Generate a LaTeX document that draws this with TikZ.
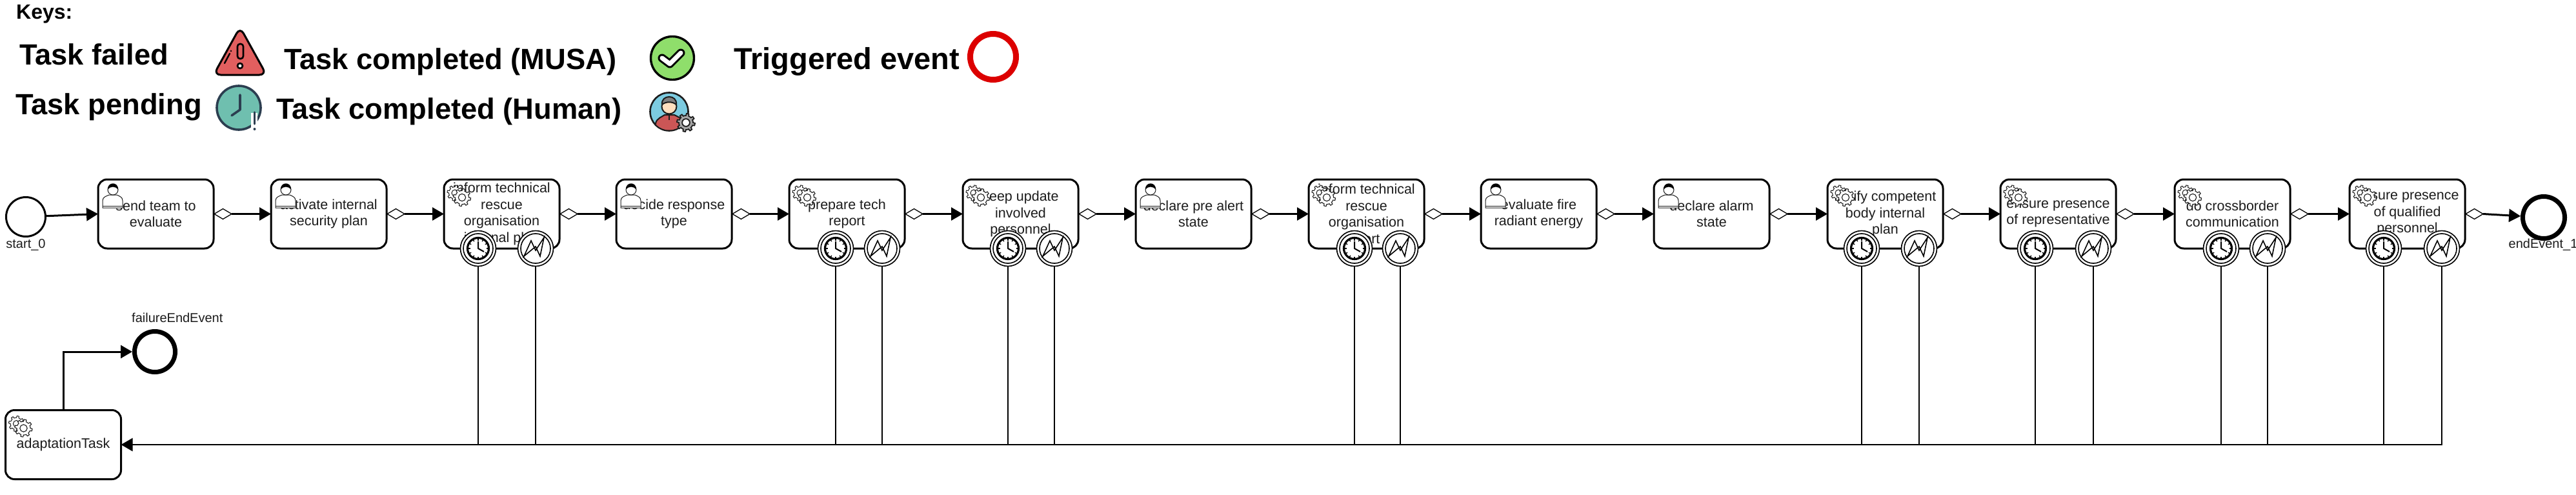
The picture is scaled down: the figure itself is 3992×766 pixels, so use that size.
\documentclass[tikz,border=0pt]{standalone}
\usepackage{fontspec}
\setmainfont{Liberation Sans}
\usetikzlibrary{arrows.meta,shapes.geometric}
\definecolor{inkc}{HTML}{1C1C1C}
\definecolor{warnred}{HTML}{E25F5F}
\definecolor{clockteal}{HTML}{6FBFAF}
\definecolor{clockink}{HTML}{2C3E50}
\definecolor{okgreen}{HTML}{8FDE6B}
\definecolor{trigred}{HTML}{DC0000}
\definecolor{skyc}{HTML}{7CCBE0}
\newcommand{\bpmngear}[5]{%
  \draw[line width=#4,draw=inkc,fill=#5,shift={(#1,#2)}] plot[domain=0:360,samples=97,variable=\q] ({\q}:{#3*(sin(8*\q)>0?1:0.78)}) -- cycle;
  \draw[line width=#4,draw=inkc,fill=white] (#1,#2) circle ({#3*0.42});}
\tikzset{
  taskbox/.style={draw=black,line width=3,fill=white,rounded corners=14,minimum width=179,minimum height=107,inner sep=0,outer sep=0,align=center,text=inkc,font=\fontsize{21.5}{25.6}\selectfont},
  gatemark/.style={diamond,shape aspect=1.7,draw=black,fill=white,line width=1.3,minimum width=27,minimum height=16,inner sep=0,outer sep=0},
  flow/.style={draw=black,line width=3,-{Triangle[length=18,width=20]}},
  plainline/.style={draw=black,line width=2.8},
  startev/.style={circle,draw=black,line width=3,fill=white,minimum size=61,inner sep=0},
  endev/.style={circle,draw=black,line width=7,fill=white,minimum size=65,inner sep=0},
  boundev/.style={circle,draw=black,line width=1.6,fill=white,minimum size=55,inner sep=0,outer sep=0},
  evlabel/.style={inner sep=0,text=inkc,font=\fontsize{20}{24}\selectfont},
  keytext/.style={anchor=base west,inner sep=0,text=black,font=\fontsize{45.3}{50}\selectfont\bfseries},
  usermark/.pic={
    \draw[line width=1,draw=inkc,fill=white] (7,44) -- (7,33) .. controls (7,27) and (13,26) .. (17,24) -- (29,24) .. controls (33,26) and (38,27) .. (38,33) -- (38,44) -- cycle;
    \draw[line width=1,draw=inkc] (7,41.5) -- (38,41.5);
    \draw[line width=1,draw=inkc,fill=white] (23,16) circle (8);
    \fill[black] (15,16) .. controls (14,3) and (32,3) .. (31,16) .. controls (27,10) and (19,10) .. (15,16) -- cycle;
  },
  gearmark/.pic={
    \bpmngear{17}{21}{12}{1}{white}
    \bpmngear{28}{28}{13.5}{1.1}{white}
  },
  clockmark/.pic={
    \draw[line width=1.6] (0,0) circle (23);
    \draw[line width=3.2,fill=white] (0,0) circle (16.5);
    \foreach \a in {0,30,...,330} \draw[line width=1.4] (\a:12.5) -- (\a:16);
    \draw[line width=2,line join=round] (0,-11) -- (0,0) -- (9,5);
  },
  errormark/.pic={
    \draw[line width=1.6] (0,0) circle (23);
    \draw[line width=1.6,line join=miter] (-18,12) -- (-7,-12) -- (0,3) -- (13,-17) -- (7,12) -- (0,-3) -- cycle;
  }
}
\begin{document}
\begin{tikzpicture}[x=1pt,y=-1pt]
\useasboundingbox (0,0) rectangle (3992,766);
\fill[white] (0,0) rectangle (3992,766);

% key
\node[keytext,font=\fontsize{32}{34}\selectfont\bfseries] (kk) at (25,29) {Keys:};
\node[keytext] (k1) at (30,100) {Task failed};
\node[keytext] (k2) at (24,177) {Task pending};
\node[keytext] (k3) at (440,107) {Task completed (MUSA)};
\node[keytext] (k4) at (428,184) {Task completed (Human)};
\node[keytext,font=\fontsize{47}{50}\selectfont\bfseries] (k5) at (1137,107) {Triggered event};

% key icons: warning
\draw[line width=3,draw=black,fill=warnred,rounded corners=11,line join=round] (372,42) -- (331,116) -- (413,116) -- cycle;
\draw[line width=2.6,draw=black,fill=warnred,rounded corners=4] (368,68) rectangle (377,91);
\draw[line width=2.6,draw=black,fill=white] (372,102) circle (4);
\draw[line width=2.4,draw=black,line cap=round] (348,98) -- (356,83);
\fill[black] (358,79) circle (1.4);
% key icons: clock
\draw[line width=3.6,draw=clockink,fill=clockteal] (370,167) circle (34);
\draw[line width=3.6,draw=clockink,line cap=round,line join=round] (372,147) -- (372,170) -- (359,179);
\draw[line width=10,draw=white] (394,175) -- (394,203);
\draw[line width=3.4,draw=clockink,line cap=round] (394.5,174) -- (394.5,192);
\fill[clockink] (394.5,200) circle (2);
% key icons: check
\draw[line width=3.4,draw=black,fill=okgreen] (1042,90) circle (33.5);
\draw[line width=13,draw=black,line cap=round,line join=round] (1026,90) -- (1038,99) -- (1055,82);
\draw[line width=7,draw=white,line cap=round,line join=round] (1026,90) -- (1038,99) -- (1055,82);
% key icons: person with gear
\draw[line width=2.6,draw=inkc,fill=skyc] (1037,173) circle (29.5);
\begin{scope}
\clip (1037,173) circle (28.5);
\draw[line width=2,draw=inkc,fill=warnred!90!black] (1016,205) -- (1016,191) .. controls (1018,183) and (1026,181) .. (1030,178) -- (1045,178) .. controls (1050,181) and (1058,183) .. (1060,191) -- (1060,205) -- cycle;
\end{scope}
\draw[line width=1.6,draw=inkc] (1037,178) -- (1037,186);
\draw[line width=2,draw=inkc,fill=orange!25!white] (1037,165) circle (11.5);
\draw[line width=2,draw=inkc,fill=gray] (1026,162) .. controls (1024,146) and (1050,146) .. (1048,162) .. controls (1042,157) and (1032,157) .. (1026,162) -- cycle;
\bpmngear{1063}{190}{14}{1.8}{gray!70}

% events
\node[startev] (start) at (40,336) {};
\node[evlabel] (startlabel) at (40,379) {start\_0};
\node[endev] (endE) at (3942,337) {};
\node[evlabel] (endlabel) at (3941,379) {endEvent\_1};
\node[endev,minimum size=63] (failE) at (240,545) {};
\node[evlabel,anchor=west] (faillabel) at (204,492) {failureEndEvent};
\node[circle,draw=trigred,line width=9,fill=white,minimum size=71,inner sep=0] (trig) at (1539,88) {};

% tasks
\foreach \n/\l/\t in {
  1/152/{send team to\\evaluate},
  2/420/{activate internal\\security plan},
  3/688/{inform technical\\rescue\\organisation\\internal plan},
  4/955/{decide response\\type},
  5/1223/{prepare tech\\report},
  6/1492/{keep update\\involved\\personnel},
  7/1760/{declare pre alert\\state},
  8/2028/{inform technical\\rescue\\organisation\\alert},
  9/2295/{evaluate fire\\radiant energy},
  10/2563/{declare alarm\\state},
  11/2832/{notify competent\\body internal\\plan},
  12/3100/{ensure presence\\of representative},
  13/3370/{do crossborder\\communication},
  14/3641/{ensure presence\\of qualified\\personnel}}
  \node[taskbox] (t\n) at ({\l+89.5},331.5) {\t};

\node[taskbox] (adapt) at (98,689) {adaptationTask};

% task icons
\foreach \n in {1,2,4,7,9,10} \pic at (t\n.north west) {usermark};
\foreach \n in {3,5,6,8,11,12,13,14} \pic at (t\n.north west) {gearmark};
\pic at (adapt.north west) {gearmark};

% gates and flows
\foreach \n in {1,...,14} \node[gatemark] (g\n) at ([xshift=14.5]t\n.east) {};
\draw[flow] (start) -- (t1.west);
\foreach \a/\b in {1/2,2/3,3/4,4/5,5/6,6/7,7/8,8/9,9/10,10/11,11/12,12/13,13/14}
  \draw[flow] (g\a.east) -- (t\b.west);
\draw[flow] (g14.east) -- (endE);
\draw[flow] (adapt.north) |- (failE.west);

% boundary events
\foreach \n/\a/\b in {3/741/830,5/1295/1367,6/1562/1634,8/2099/2170,11/2885/2974,12/3154/3244,13/3442/3514,14/3694/3784}{
  \node[boundev] (c\n) at (\a,385) {};
  \node[boundev] (e\n) at (\b,385) {};
  \pic at (c\n) {clockmark};
  \pic at (e\n) {errormark};
}
\foreach \n in {3,5,6,8,11,12,13}{
  \draw[plainline] (c\n.south) -- (c\n.south |- adapt.east);
  \draw[plainline] (e\n.south) -- (e\n.south |- adapt.east);
}
\draw[plainline] (c14.south) -- (c14.south |- adapt.east);
\draw[flow,line width=2.8] (e14.south) |- (adapt.east);
\end{tikzpicture}
\end{document}
